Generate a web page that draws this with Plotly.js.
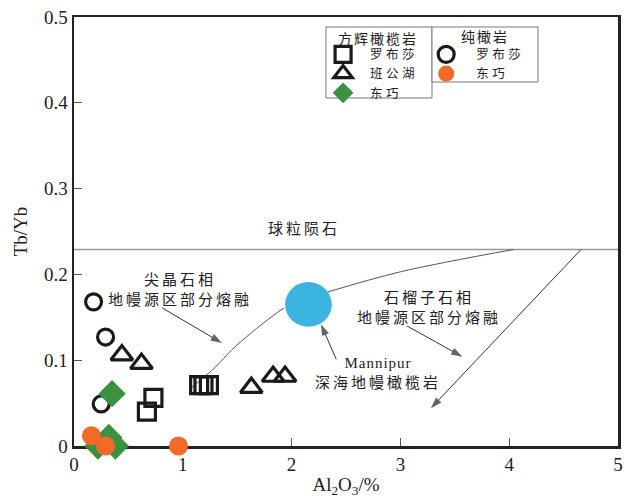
<!DOCTYPE html>
<html>
<head>
<meta charset="utf-8">
<script src="https://cdn.plot.ly/plotly-3.0.1.min.js"></script>
<style>html,body{margin:0;padding:0;background:#fff;}</style>
</head>
<body>
<div id="chart" style="width:627px;height:501px;"></div>
<script>
// ---- data ----
// 方辉橄榄岩 (harzburgite)
const harzLuobusaX = [0.73, 0.67, 1.15, 1.19, 1.24];
const harzLuobusaY = [0.056, 0.040, 0.071, 0.071, 0.071];
const harzBangongX = [0.44, 0.62, 1.63, 1.83, 1.94];
const harzBangongY = [0.106, 0.096, 0.068, 0.081, 0.081];
const harzDongqiaoX = [0.35, 0.32, 0.38, 0.22];
const harzDongqiaoY = [0.061, 0.010, 0.000, 0.000];
// 纯橄岩 (dunite)
const dunLuobusaX = [0.18, 0.29, 0.25];
const dunLuobusaY = [0.168, 0.127, 0.049];
const dunDongqiaoX = [0.16, 0.29, 0.96];
const dunDongqiaoY = [0.012, 0.000, 0.000];
// Mannipur field (ellipse extent)
const mannipurX = [1.94, 2.37];
const mannipurY = [0.139, 0.191];
// chondrite reference line
const chondriteX = [0, 5];
const chondriteY = [0.229, 0.229];
// spinel-facies melting curve
const spinelLowX = [1.08, 1.30, 1.45, 1.63, 1.82, 1.93];
const spinelLowY = [0.068, 0.092, 0.112, 0.132, 0.151, 0.161];
const spinelUpX = [2.32, 3.0, 4.04];
const spinelUpY = [0.179, 0.203, 0.229];
// arrows: tail -> head
const garnetLineX = [4.66, 3.28];
const garnetLineY = [0.229, 0.044];
const spinelArrowX = [0.81, 1.36];
const spinelArrowY = [0.161, 0.120];
const garnetArrowX = [3.06, 3.57];
const garnetArrowY = [0.140, 0.104];
const mannipurArrowX = [2.41, 2.27];
const mannipurArrowY = [0.101, 0.142];
// tick labels
const xTicks = [0, 1, 2, 3, 4, 5];
const yTicks = [0, 0.1, 0.2, 0.3, 0.4, 0.5];
const yTickText = ['0', '0.1', '0.2', '0.3', '0.4', '0.5'];

const CJK = '"Noto Sans CJK SC", "Noto Sans", sans-serif';
const SERIF = '"Liberation Serif", "DejaVu Serif", serif';
const ORANGE = '#F26A27';
const GREEN = '#3A9240';
const BLUE = '#3BB4E0';
const DARK = '#1a1a1a';

function sp(t, px) { return '<span style="letter-spacing:' + px + 'px">' + t + '</span>'; }

function arrowTrace(xs, ys) {
  return {x: xs, y: ys, mode: 'lines+markers', line: {color: '#333', width: 1},
    marker: {symbol: 'arrow', size: [0, 12], angleref: 'previous', color: '#222', line: {width: 0}},
    showlegend: false, hoverinfo: 'skip', cliponaxis: false};
}

const traces = [
  {x: chondriteX, y: chondriteY, mode: 'lines', line: {color: '#999', width: 1.5}, showlegend: false, hoverinfo: 'skip'},
  {x: spinelLowX, y: spinelLowY, mode: 'lines', line: {color: '#555', width: 1, shape: 'spline'}, showlegend: false, hoverinfo: 'skip'},
  {x: spinelUpX, y: spinelUpY, mode: 'lines', line: {color: '#555', width: 1, shape: 'spline'}, showlegend: false, hoverinfo: 'skip'},
  arrowTrace(garnetLineX, garnetLineY),
  arrowTrace(spinelArrowX, spinelArrowY),
  arrowTrace(garnetArrowX, garnetArrowY),
  arrowTrace(mannipurArrowX, mannipurArrowY),
  {x: dunLuobusaX, y: dunLuobusaY, mode: 'markers', name: sp('罗布莎', 3.5), legend: 'legend2',
   marker: {symbol: 'circle-open', size: 16, color: DARK, line: {width: 3.2, color: DARK}}, cliponaxis: false},
  {x: harzLuobusaX, y: harzLuobusaY, mode: 'markers', name: sp('罗布莎', 3.5), legend: 'legend',
   marker: {symbol: 'square-open', size: 17, color: DARK, line: {width: 3.2, color: DARK}}, cliponaxis: false},
  {x: harzBangongX, y: harzBangongY, mode: 'markers', name: sp('班公湖', 3.5), legend: 'legend',
   marker: {symbol: 'triangle-up-open', size: 19, color: DARK, line: {width: 3.2, color: DARK}}, cliponaxis: false},
  {x: harzDongqiaoX, y: harzDongqiaoY, mode: 'markers', name: sp('东巧', 3.5), legend: 'legend',
   marker: {symbol: 'diamond', size: 21, color: GREEN, line: {width: 0}}, cliponaxis: false},
  {x: dunDongqiaoX, y: dunDongqiaoY, mode: 'markers', name: sp('东巧', 3.5), legend: 'legend2',
   marker: {symbol: 'circle', size: 19, color: ORANGE, line: {width: 0}}, cliponaxis: false}
];

function label(txt, x, y, size) {
  return {x: x, y: y, xref: 'x', yref: 'y', text: txt, showarrow: false, align: 'center',
    font: {family: CJK, size: size || 15, color: '#222'}};
}
function header(txt, x, y) {
  return {x: x, y: y, xref: 'paper', yref: 'paper', text: sp(txt, 2), showarrow: false,
    xanchor: 'center', yanchor: 'middle', font: {family: CJK, size: 14, color: '#222'}};
}

const annotations = [
  label(sp('球粒陨石', 3), 2.11, 0.255),
  label(sp('尖晶石相', 3) + '<br>' + sp('地幔源区部分熔融', 3), 0.97, 0.183),
  label(sp('石榴子石相', 3) + '<br>' + sp('地幔源区部分熔融', 3), 3.26, 0.163),
  label('<span style="font-family:Liberation Serif;letter-spacing:1px">Mannipur</span><br>' + sp('深海地幔橄榄岩', 3), 2.79, 0.084),
  header('方辉橄榄岩', 0.558, 0.952),
  header('纯橄岩', 0.756, 0.955)
];

const legendBase = {
  yanchor: 'top', xanchor: 'left', y: 0.947,
  bgcolor: 'rgba(0,0,0,0)', borderwidth: 0,
  font: {family: CJK, size: 12.5, color: '#222'},
  tracegroupgap: 0, traceorder: 'normal'
};

const layout = {
  width: 627, height: 501,
  margin: {l: 74, r: 9, t: 17, b: 55},
  paper_bgcolor: '#fff', plot_bgcolor: '#fff',
  showlegend: true,
  font: {family: SERIF, size: 19, color: '#222'},
  xaxis: {
    range: [0, 5], tickvals: xTicks, ticktext: xTicks.map(String),
    showgrid: false, zeroline: false, showline: true, linecolor: '#222', linewidth: 2.5, mirror: true,
    ticks: 'inside', ticklen: 8, tickwidth: 1, tickcolor: '#555',
    tickfont: {family: SERIF, size: 19, color: '#222'},
    title: {text: 'Al<sub>2</sub>O<sub>3</sub>/%', font: {family: SERIF, size: 19}, standoff: 4},
    layer: 'below traces', fixedrange: true
  },
  yaxis: {
    range: [0, 0.5], tickvals: yTicks, ticktext: yTickText,
    showgrid: false, zeroline: false, showline: true, linecolor: '#222', linewidth: 2.5, mirror: true,
    ticks: 'inside', ticklen: 8, tickwidth: 1, tickcolor: '#555',
    tickfont: {family: SERIF, size: 19, color: '#222'},
    title: {text: 'Tb/Yb', font: {family: SERIF, size: 19}, standoff: 12},
    layer: 'below traces', fixedrange: true
  },
  legend: Object.assign({}, legendBase, {x: 0.445, itemwidth: 44}),
  legend2: Object.assign({}, legendBase, {x: 0.629, itemwidth: 50}),
  shapes: [
    {type: 'circle', xref: 'x', yref: 'y', x0: mannipurX[0], x1: mannipurX[1], y0: mannipurY[0], y1: mannipurY[1],
     fillcolor: BLUE, line: {width: 0}, layer: 'above'},
    {type: 'rect', xref: 'paper', yref: 'paper', x0: 0.4632, x1: 0.6581, y0: 0.8112, y1: 0.9767,
     fillcolor: '#fff', line: {color: '#777', width: 1}, layer: 'below'},
    {type: 'rect', xref: 'paper', yref: 'paper', x0: 0.6581, x1: 0.8529, y0: 0.8485, y1: 0.9767,
     fillcolor: '#fff', line: {color: '#777', width: 1}, layer: 'below'}
  ],
  annotations: annotations
};

Plotly.newPlot('chart', traces, layout, {displayModeBar: false, staticPlot: true});
</script>
</body>
</html>
